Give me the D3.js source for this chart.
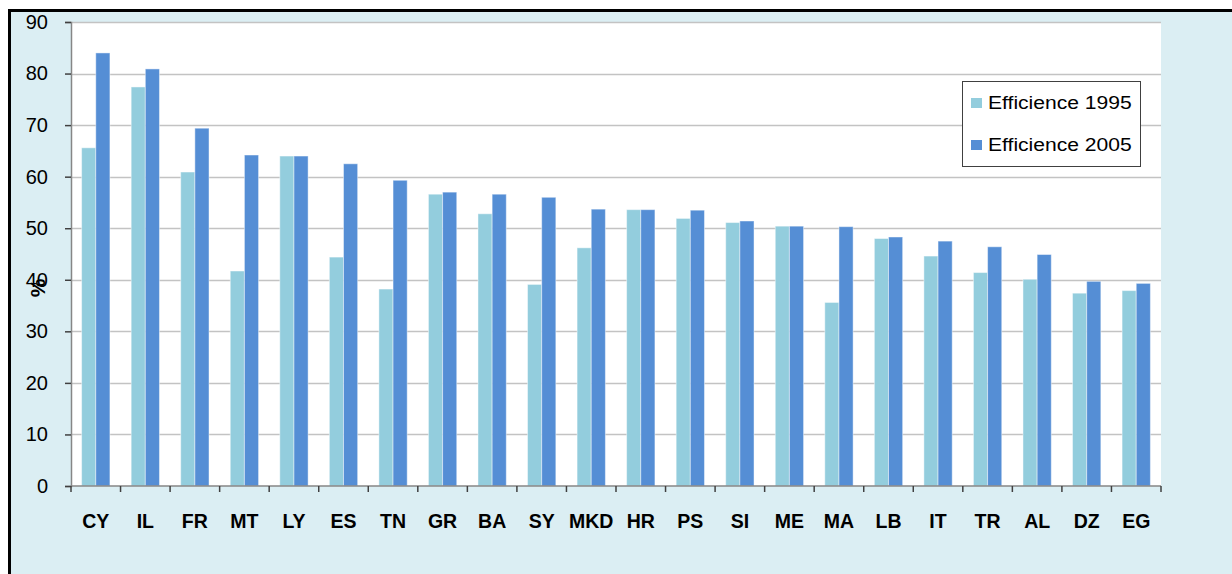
<!DOCTYPE html>
<html>
<head>
<meta charset="utf-8">
<script src="https://cdn.jsdelivr.net/npm/d3@7"></script>
<style>
  html, body { margin: 0; padding: 0; background: #fff; }
  svg { display: block; }
  text { font-family: "Liberation Sans", Arial, sans-serif; }
</style>
</head>
<body>
<div id="chart"></div>
<script>
var categories = ["CY", "IL", "FR", "MT", "LY", "ES", "TN", "GR", "BA", "SY", "MKD",
                  "HR", "PS", "SI", "ME", "MA", "LB", "IT", "TR", "AL", "DZ", "EG"];
var eff1995 = [65.6, 77.4, 60.9, 41.7, 64.0, 44.4, 38.2, 56.6, 52.8, 39.1, 46.2,
               53.6, 51.9, 51.1, 50.4, 35.6, 48.0, 44.6, 41.4, 40.1, 37.4, 37.9];
var eff2005 = [84.0, 80.9, 69.4, 64.2, 64.0, 62.5, 59.3, 57.0, 56.6, 56.0, 53.7,
               53.6, 53.5, 51.4, 50.4, 50.3, 48.3, 47.5, 46.4, 44.9, 39.7, 39.3];
var seriesNames = ["Efficience 1995", "Efficience 2005"];
var seriesColors = ["#93cddd", "#558ed5"];
var yTicks = [0, 10, 20, 30, 40, 50, 60, 70, 80, 90];

var W = 1232, H = 574;
var plot = {left: 71, right: 1161, top: 22, bottom: 486};

var svg = d3.select("#chart").append("svg")
  .attr("width", W)
  .attr("height", H);

// outer frame
svg.append("rect")
  .attr("x", 9.5).attr("y", 10.5)
  .attr("width", W + 20).attr("height", H + 20)
  .attr("fill", "#dbeef3")
  .attr("stroke", "#000")
  .attr("stroke-width", 3);

// plot area
svg.append("rect")
  .attr("x", plot.left).attr("y", plot.top)
  .attr("width", plot.right - plot.left)
  .attr("height", plot.bottom - plot.top)
  .attr("fill", "#fff");

var x0 = d3.scaleBand()
  .domain(categories)
  .range([plot.left, plot.right])
  .padding(0);

var x1 = d3.scaleBand()
  .domain([0, 1])
  .range([0, x0.bandwidth()])
  .paddingInner(0)
  .paddingOuter(0.75);

var y = d3.scaleLinear()
  .domain([0, 90])
  .range([plot.bottom, plot.top]);

// gridlines
svg.append("g")
  .selectAll("line")
  .data(yTicks.slice(1))
  .enter().append("line")
    .attr("x1", plot.left).attr("x2", plot.right)
    .attr("y1", function(d) { return Math.round(y(d)) + 0.5; })
    .attr("y2", function(d) { return Math.round(y(d)) + 0.5; })
    .attr("stroke", "#c3c3c3")
    .attr("stroke-width", 1.3);

// bars
var rows = categories.map(function(c, i) {
  return {cat: c, vals: [eff1995[i], eff2005[i]]};
});

var groups = svg.append("g")
  .selectAll("g")
  .data(rows)
  .enter().append("g")
    .attr("transform", function(d) { return "translate(" + x0(d.cat) + ",0)"; });

groups.selectAll("rect")
  .data(function(d) { return d.vals.map(function(v, k) { return {k: k, v: v}; }); })
  .enter().append("rect")
    .attr("x", function(d) { return x1(d.k); })
    .attr("y", function(d) { return y(d.v); })
    .attr("width", x1.bandwidth())
    .attr("height", function(d) { return plot.bottom - y(d.v); })
    .attr("fill", function(d) { return seriesColors[d.k]; })
    .attr("stroke", "#ffffff")
    .attr("stroke-opacity", 0.45)
    .attr("stroke-width", 1);

// y axis
var yAxis = d3.axisLeft(y)
  .tickValues(yTicks)
  .tickSize(6)
  .tickPadding(17)
  .tickFormat(d3.format("d"));

var gy = svg.append("g")
  .attr("transform", "translate(" + plot.left + ",0)")
  .call(yAxis);
gy.select(".domain").attr("stroke", "#868686").attr("stroke-width", 1.5);
gy.selectAll(".tick line").attr("stroke", "#404040").attr("stroke-width", 1.5);
gy.selectAll(".tick text")
  .attr("font-size", 20)
  .attr("fill", "#000")
  .attr("font-family", "Liberation Sans, Arial, sans-serif");

// x axis: ticks at category boundaries
var boundaries = categories.map(function(c) { return x0(c); }).concat([plot.right]);
var gx = svg.append("g");
gx.append("line")
  .attr("x1", plot.left).attr("x2", plot.right)
  .attr("y1", plot.bottom).attr("y2", plot.bottom)
  .attr("stroke", "#868686")
  .attr("stroke-width", 1.5);
gx.selectAll(".bt")
  .data(boundaries)
  .enter().append("line")
    .attr("class", "bt")
    .attr("x1", function(d) { return d; })
    .attr("x2", function(d) { return d; })
    .attr("y1", plot.bottom).attr("y2", plot.bottom + 6)
    .attr("stroke", "#404040")
    .attr("stroke-width", 1.5);
gx.selectAll(".lbl")
  .data(categories)
  .enter().append("text")
    .attr("class", "lbl")
    .attr("x", function(d) { return x0(d) + x0.bandwidth() / 2; })
    .attr("y", 528)
    .attr("text-anchor", "middle")
    .attr("font-size", 19.5)
    .attr("font-weight", "bold")
    .attr("fill", "#000")
    .text(function(d) { return d; });

// y title
svg.append("text")
  .attr("transform", "translate(45,288) rotate(-90)")
  .attr("text-anchor", "middle")
  .attr("font-size", 21)
  .attr("font-weight", "bold")
  .attr("fill", "#000")
  .text("%");

// legend
var legend = svg.append("g");
legend.append("rect")
  .attr("x", 962.5).attr("y", 81.5)
  .attr("width", 178).attr("height", 85)
  .attr("fill", "#fff")
  .attr("stroke", "#404040")
  .attr("stroke-width", 1);

var items = legend.selectAll(".item")
  .data(seriesNames)
  .enter().append("g")
    .attr("class", "item")
    .attr("transform", function(d, i) { return "translate(971," + (98 + i * 42) + ")"; });
items.append("rect")
  .attr("width", 11).attr("height", 10)
  .attr("fill", function(d, i) { return seriesColors[i]; });
items.append("text")
  .attr("transform", "translate(17,11) scale(1.11,1)")
  .attr("font-size", 19)
  .attr("fill", "#000")
  .text(function(d) { return d; });
</script>
</body>
</html>
